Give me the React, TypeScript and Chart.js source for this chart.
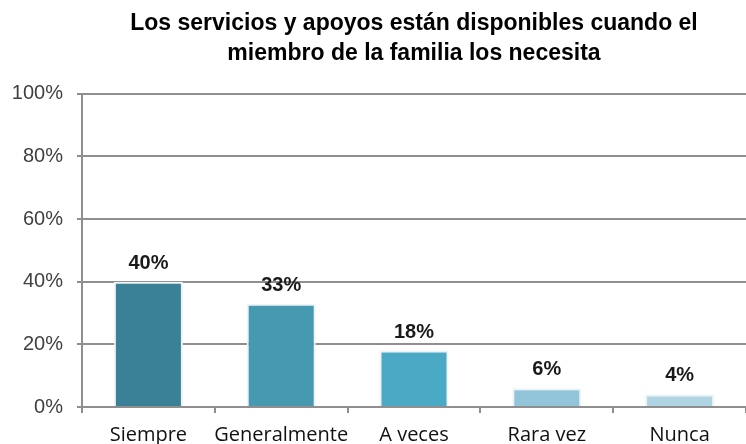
import React, { useEffect, useRef } from "react";
import { Chart, registerables } from "chart.js";

Chart.register(...registerables);

const categories = ["Siempre", "Generalmente", "A veces", "Rara vez", "Nunca"];
const values = [40, 33, 18, 6, 4];
const valueLabels = ["40%", "33%", "18%", "6%", "4%"];
const barColors = ["#3a8197", "#4699b1", "#4aaac6", "#93c5da", "#afd4e3"];
const titleLines = [
  "Los servicios y apoyos están disponibles cuando el",
  "miembro de la familia los necesita",
];

const SANS = "'Liberation Sans', Arial, sans-serif";

const valueLabelPlugin = {
  id: "valueLabels",
  afterDatasetsDraw(chart: any) {
    const ctx = chart.ctx;
    const meta = chart.getDatasetMeta(0);
    ctx.save();
    ctx.font = `bold 20px ${SANS}`;
    ctx.fillStyle = "#1a1a1a";
    ctx.textAlign = "center";
    ctx.textBaseline = "alphabetic";
    meta.data.forEach((el: any, i: number) => {
      ctx.fillText(valueLabels[i], el.x, el.y - 13);
    });
    ctx.restore();
  },
};

export default function App() {
  const ref = useRef<HTMLCanvasElement | null>(null);
  useEffect(() => {
    if (!ref.current) return;
    const chart = new Chart(ref.current, {
      type: "bar",
      data: {
        labels: categories,
        datasets: [
          {
            data: values,
            backgroundColor: barColors,
            borderColor: "#eef3f5",
            borderWidth: 2,
            barPercentage: 0.52,
            categoryPercentage: 1,
          },
        ],
      },
      options: {
        responsive: false,
        animation: false,
        layout: { padding: 0 },
        plugins: {
          legend: { display: false },
          tooltip: { enabled: false },
          title: {
            display: true,
            text: titleLines,
            fullSize: false,
            color: "#000",
            font: { family: SANS, size: 23, weight: "bold", lineHeight: 1.3 },
            padding: { top: 9, bottom: 25 },
          },
        },
        scales: {
          x: {
            grid: {
              offset: true,
              drawOnChartArea: false,
              tickLength: 6,
              color: "#8f8f8f",
              lineWidth: 2,
            },
            border: { display: true, color: "#8f8f8f", width: 2 },
            ticks: {
              color: "#111",
              padding: 10,
              autoSkip: false,
              font: { family: "'Open Sans', sans-serif", size: 20 },
              maxRotation: 0,
            },
            afterFit(scale: any) {
              scale.height = 37;
            },
          },
          y: {
            min: 0,
            max: 100,
            grid: { color: "#8f8f8f", lineWidth: 2, tickLength: 5 },
            border: { display: true, color: "#8f8f8f", width: 2 },
            ticks: {
              stepSize: 20,
              color: "#404040",
              padding: 14,
              font: { family: SANS, size: 20 },
              callback: (v: any) => v + "%",
            },
            afterFit(scale: any) {
              scale.width = 82;
            },
          },
        },
      },
      plugins: [valueLabelPlugin],
    });
    return () => chart.destroy();
  }, []);
  return (
    <div style={{ position: "absolute", left: 0, top: 0, width: 746, height: 444 }}>
      <canvas ref={ref} width={746} height={444} style={{ display: "block" }} />
    </div>
  );
}
